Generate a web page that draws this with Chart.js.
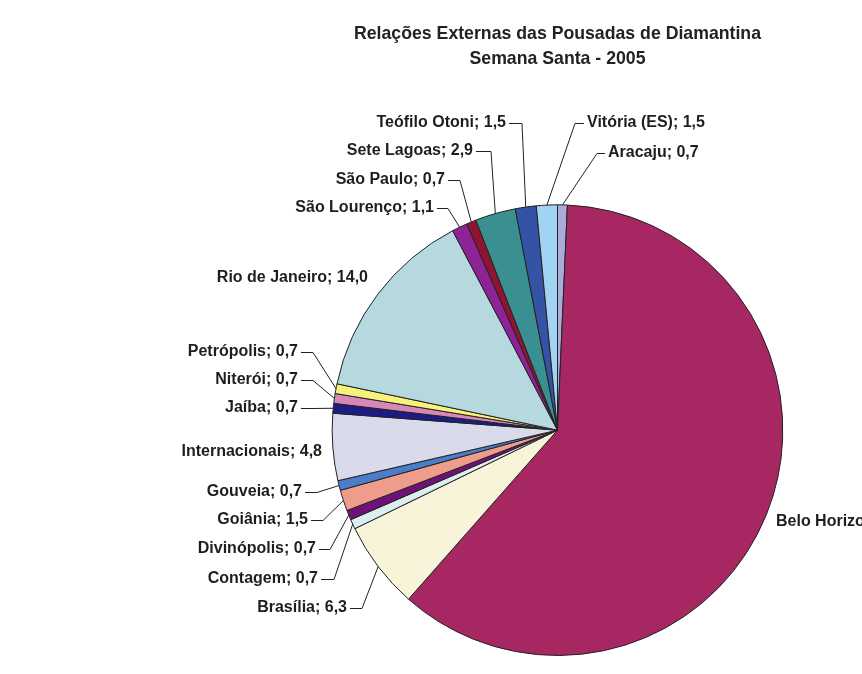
<!DOCTYPE html>
<html>
<head>
<meta charset="utf-8">
<title>Relações Externas das Pousadas de Diamantina</title>
<script src="https://cdn.jsdelivr.net/npm/chart.js@4.4.0/dist/chart.umd.min.js"></script>
<style>
  html, body { margin: 0; padding: 0; background: #fff; }
  #wrap { width: 862px; height: 674px; position: relative; }
</style>
</head>
<body>
<div id="wrap"><canvas id="pieChart"></canvas></div>
<script>
// city names in the order Excel drew them (alphabetical, clockwise from 12 o'clock)
var cidades = ['Aracaju', 'Belo Horizonte', 'Brasília', 'Contagem', 'Divinópolis', 'Goiânia',
  'Gouveia', 'Internacionais', 'Jaíba', 'Niterói', 'Petrópolis', 'Rio de Janeiro',
  'São Lourenço', 'São Paulo', 'Sete Lagoas', 'Teófilo Otoni', 'Vitória (ES)'];
var percentuais = [0.7, 60.8, 6.3, 0.7, 0.7, 1.5, 0.7, 4.8, 0.7, 0.7, 0.7, 14.0, 1.1, 0.7, 2.9, 1.5, 1.5];
var titulo = ['Relações Externas das Pousadas de Diamantina', 'Semana Santa - 2005'];

var cores = ['#ABABD9', '#A62762', '#F7F4D9', '#DDEEF0', '#6E1278', '#EE9C8C', '#4B7DC8', '#D9DAEA',
  '#1C1C84', '#D888B8', '#F7F27A', '#B5D9DE', '#8D2396', '#8E1432', '#3A8F91', '#3553A5', '#A3D3F2'];

// where each data label sits: text anchor x/y, alignment and the elbow of its leader line
var rotulos = [
  { x: 608, y: 153, align: 'left',  elbow: 597 },
  { x: 776, y: 522, align: 'left',  elbow: null },
  { x: 347, y: 608, align: 'right', elbow: 362 },
  { x: 318, y: 579, align: 'right', elbow: 334 },
  { x: 316, y: 549, align: 'right', elbow: 330 },
  { x: 308, y: 520, align: 'right', elbow: 323 },
  { x: 302, y: 492, align: 'right', elbow: 317 },
  { x: 322, y: 452, align: 'right', elbow: null },
  { x: 298, y: 408, align: 'right', elbow: 312 },
  { x: 298, y: 380, align: 'right', elbow: 313 },
  { x: 298, y: 352, align: 'right', elbow: 313 },
  { x: 368, y: 278, align: 'right', elbow: null },
  { x: 434, y: 208, align: 'right', elbow: 448 },
  { x: 445, y: 180, align: 'right', elbow: 460 },
  { x: 473, y: 151, align: 'right', elbow: 491 },
  { x: 506, y: 123, align: 'right', elbow: 522 },
  { x: 587, y: 123, align: 'left',  elbow: 575 }
];

(function(){
  var FONT = '"Liberation Sans", Arial, sans-serif';

  function fmt(v){ return v.toFixed(1).replace('.', ','); }

  var outsideLabels = {
    id: 'outsideLabels',
    afterDatasetsDraw: function(chart){
      var ctx = chart.ctx;
      var meta = chart.getDatasetMeta(0);
      ctx.save();
      ctx.font = 'bold 16px ' + FONT;
      ctx.fillStyle = '#1e1e1e';
      ctx.strokeStyle = '#222';
      ctx.lineWidth = 1;
      ctx.textBaseline = 'middle';
      meta.data.forEach(function(arc, i){
        var p = arc.getProps(['x', 'y', 'startAngle', 'endAngle', 'outerRadius'], true);
        var mid = (p.startAngle + p.endAngle) / 2;
        var ex = p.x + Math.cos(mid) * p.outerRadius;
        var ey = p.y + Math.sin(mid) * p.outerRadius;
        var r = rotulos[i];
        if (r.elbow !== null) {
          var sx = r.align === 'right' ? r.x + 3 : r.x - 3;
          ctx.beginPath();
          ctx.moveTo(sx, r.y + 0.5);
          ctx.lineTo(r.elbow, r.y + 0.5);
          ctx.lineTo(ex, ey);
          ctx.stroke();
        }
        ctx.textAlign = r.align;
        ctx.fillText(cidades[i] + '; ' + fmt(percentuais[i]), r.x, r.y);
      });
      ctx.restore();
    }
  };

  new Chart(document.getElementById('pieChart'), {
    type: 'pie',
    data: {
      labels: cidades,
      datasets: [{
        data: percentuais,
        backgroundColor: cores,
        borderColor: '#222',
        borderWidth: 1,
        hoverOffset: 0,
        offset: 0
      }]
    },
    options: {
      responsive: true,
      maintainAspectRatio: false,
      animation: false,
      events: [],
      layout: { padding: { top: 0, right: 0, bottom: 18, left: 253 } },
      plugins: {
        legend: { display: false },
        tooltip: { enabled: false },
        title: {
          display: true,
          text: titulo,
          color: '#222',
          font: { family: FONT, size: 17.7, weight: 'bold', lineHeight: 1.45 },
          padding: { top: 21, bottom: 132 }
        }
      }
    },
    plugins: [outsideLabels]
  });
})();
</script>
</body>
</html>
